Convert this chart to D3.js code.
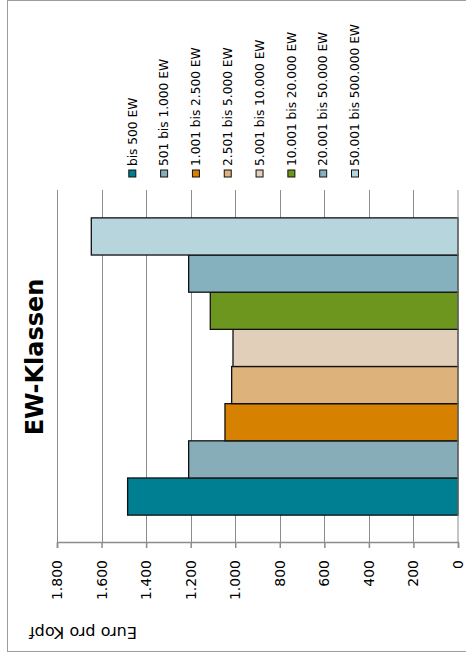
<!DOCTYPE html>
<html>
<head>
<meta charset="utf-8">
<script src="https://cdn.jsdelivr.net/npm/d3@7"></script>
<style>
  body { margin: 0; background: #fff; }
  svg { display: block; }
  text { font-family: "DejaVu Sans", sans-serif; fill: #000; }
</style>
</head>
<body>
<div id="chart"></div>
<script>
'use strict';

// Gemeinden nach Einwohnerklassen, Euro pro Kopf
var classes = ['bis 500 EW', '501 bis 1.000 EW', '1.001 bis 2.500 EW', '2.501 bis 5.000 EW',
    '5.001 bis 10.000 EW', '10.001 bis 20.000 EW', '20.001 bis 50.000 EW', '50.001 bis 500.000 EW'];
var euroProKopf = [1483, 1209, 1046, 1016, 1010, 1112, 1209, 1646];
var colors = ['#007e92', '#87aeb8', '#d68200', '#deb37b', '#e1cfb9', '#6c961e', '#85b1be', '#b7d5dd'];
var tickValues = [0, 200, 400, 600, 800, 1000, 1200, 1400, 1600, 1800];

var width = 466,
    height = 653,
    // the chart is laid out as an ordinary column chart (653 wide, 466 high)
    // and then turned by -90 degrees as a whole
    plotLeft = 110, plotRight = 463, plotTop = 57, plotBottom = 458,
    de = d3.formatLocale({ decimal: ',', thousands: '.', grouping: [3], currency: ['', ' €'] }),
    fmt = de.format(',');

var svg = d3.select('#chart').append('svg').attr('width', width).attr('height', height);

var g = svg.append('g').attr('transform', 'translate(0,' + height + ') rotate(-90)');

// chart border
g.append('rect').attr('x', 1.5).attr('y', 7.5).attr('width', 651).attr('height', 500)
    .attr('fill', 'none').attr('stroke', '#9c9c9c').attr('stroke-width', 1);

var x = d3.scaleBand().domain(classes).range([plotLeft, plotRight]).paddingInner(0).paddingOuter(0.75),
    y = d3.scaleLinear().domain([0, 1800]).range([plotBottom, plotTop]);

// gridlines
g.append('g').selectAll('line').data(tickValues.filter(function (d) { return d > 0; }))
    .enter().append('line')
    .attr('x1', plotLeft).attr('x2', plotRight)
    .attr('y1', function (d) { return Math.round(y(d)) + 0.5; })
    .attr('y2', function (d) { return Math.round(y(d)) + 0.5; })
    .attr('stroke', '#8c8c8c').attr('stroke-width', 1);

// bars
g.append('g').selectAll('rect').data(euroProKopf).enter().append('rect')
    .attr('x', function (d, i) { return x(classes[i]); })
    .attr('width', x.bandwidth())
    .attr('y', function (d) { return y(d); })
    .attr('height', function (d) { return y(0) - y(d); })
    .attr('fill', function (d, i) { return colors[i]; })
    .attr('stroke', '#111').attr('stroke-width', 1.3);

// category axis line at 0
g.append('line').attr('x1', plotLeft).attr('x2', plotRight)
    .attr('y1', y(0)).attr('y2', y(0))
    .attr('stroke', '#8c8c8c').attr('stroke-width', 1);

// value axis
var axis = g.append('g').attr('transform', 'translate(' + plotLeft + ',0)')
    .call(d3.axisLeft(y).tickValues(tickValues).tickSize(5).tickPadding(12).tickFormat(fmt));
axis.select('.domain').attr('stroke', '#8c8c8c').attr('stroke-width', 1.5);
axis.selectAll('.tick line').attr('stroke', '#8c8c8c').attr('stroke-width', 1.5);
axis.selectAll('.tick text').style('font-family', '"DejaVu Sans", sans-serif').style('font-size', '14px');

// title
g.append('text').attr('x', 296).attr('y', 43).attr('text-anchor', 'middle')
    .style('font-size', '24px').style('font-weight', 'bold').text('EW-Klassen');

// axis title
g.append('text').attr('transform', 'translate(26,83) rotate(-90)').attr('text-anchor', 'middle')
    .style('font-size', '16px').text('Euro pro Kopf');

// legend
var ly = d3.scalePoint().domain(classes).range([132.3, 355]);
var legend = g.append('g').selectAll('g').data(classes).enter().append('g')
    .attr('transform', function (d) { return 'translate(476,' + ly(d) + ')'; });

legend.append('rect').attr('x', 0).attr('y', -3.5).attr('width', 7).attr('height', 7)
    .attr('fill', function (d, i) { return colors[i]; })
    .attr('stroke', '#111').attr('stroke-width', 1);

legend.append('text').attr('x', 11).attr('y', 0).attr('dy', '0.35em')
    .style('font-size', '12.2px').text(function (d) { return d; });
</script>
</body>
</html>
